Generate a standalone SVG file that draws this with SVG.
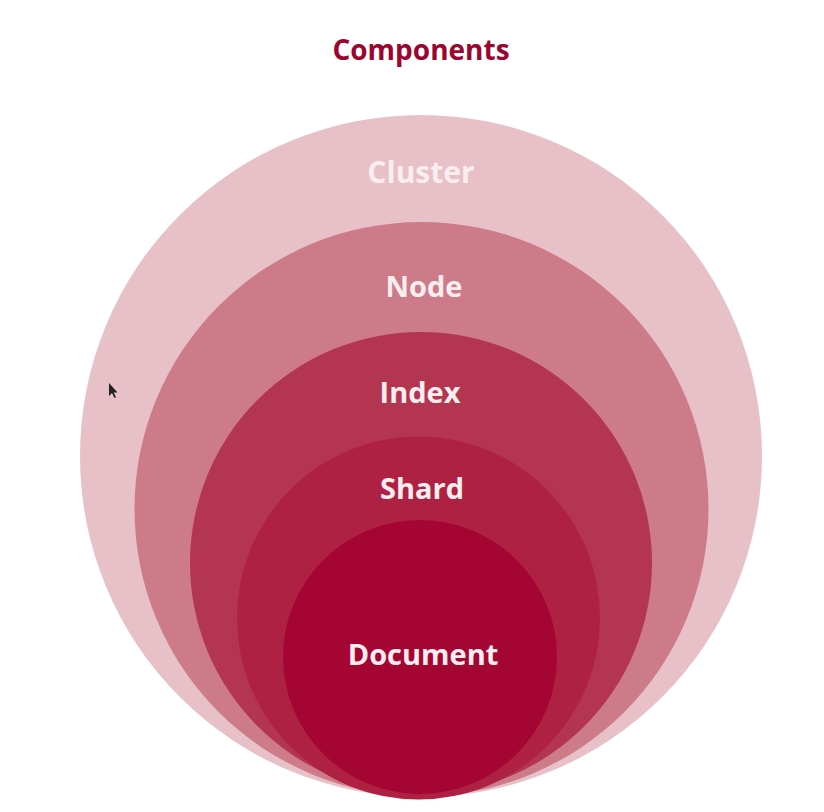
<svg xmlns="http://www.w3.org/2000/svg" width="824" height="812" viewBox="0 0 824 812">
  <style>
    .lbl { font-family: "Open Sans", "Noto Sans", "Liberation Sans", sans-serif; font-weight: 700; text-anchor: middle; fill: #F8EEF0; }
    .title { font-family: "Open Sans", "Noto Sans", "Liberation Sans", sans-serif; font-weight: 700; text-anchor: middle; fill: #9B0530; font-size: 28px; }
  </style>
  <rect width="824" height="812" fill="#FFFFFF"/>
  <text class="title" x="421" y="60">Components</text>
  <g id="cluster">
    <circle cx="421" cy="456" r="341" fill="#E7C0C8"/>
    <text class="lbl" x="421" y="183" font-size="30" fill="#F4E4E8">Cluster</text>
  </g>
  <g id="node">
    <circle cx="421.5" cy="509" r="287" fill="#CD7B89"/>
    <text class="lbl" x="424" y="297" font-size="29">Node</text>
  </g>
  <g id="index">
    <circle cx="421" cy="563" r="231" fill="#B4354F"/>
    <text class="lbl" x="420" y="403" font-size="29">Index</text>
  </g>
  <g id="shard">
    <circle cx="418.5" cy="618" r="181.5" fill="#AF2143"/>
    <text class="lbl" x="422" y="499" font-size="29">Shard</text>
  </g>
  <g id="document">
    <circle cx="420" cy="657" r="137" fill="#A50533"/>
    <text class="lbl" x="423" y="665" font-size="29">Document</text>
  </g>
  <polygon points="109,383 109,396 112,393 114.5,398 116,397.3 113.7,392.5 117.5,392.5" fill="#222222"/>
</svg>
